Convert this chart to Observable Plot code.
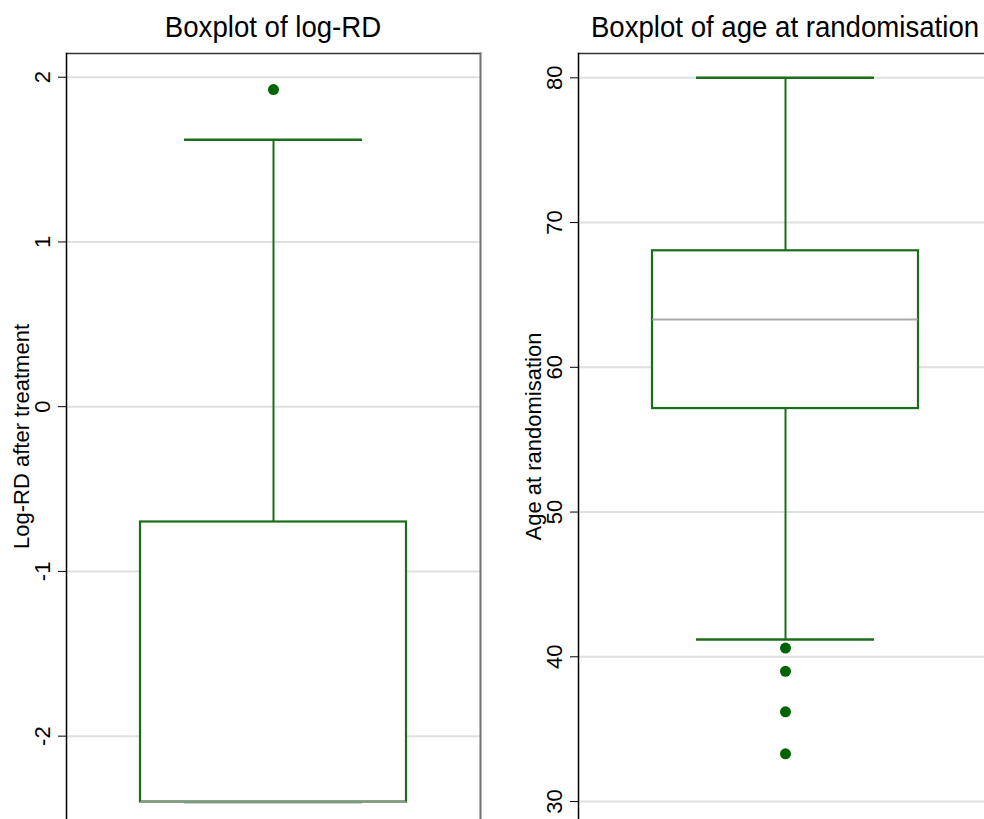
<!DOCTYPE html>
<html>
<head>
<meta charset="utf-8">
<script src="https://cdn.jsdelivr.net/npm/d3@7"></script>
<script src="https://cdn.jsdelivr.net/npm/@observablehq/plot@0.6"></script>
<style>
  html, body { margin: 0; padding: 0; background: #fff; overflow: hidden; }
  #page { position: relative; width: 984px; height: 819px; overflow: hidden; background: #fff; }
  .panel { position: absolute; top: 0; }
  .panel svg { max-width: none !important; }
  .title {
    position: absolute; top: 12px; white-space: nowrap;
    font-family: "Liberation Sans", Arial, Helvetica, sans-serif;
    font-size: 30px; line-height: 30px; color: #000;
    transform: translateX(-50%) scaleX(0.92);
  }
</style>
</head>
<body>
<div id="page"></div>
<script>
// Log-RD after treatment: five-number summary and outliers
const rdName = "Log-RD";
const rdQ1 = -2.40, rdMedian = -2.40, rdQ3 = -0.70;
const rdLowerWhisker = -2.40, rdUpperWhisker = 1.62;
const rdOutliers = [1.925];
const rdTicks = [-2, -1, 0, 1, 2];

// Age at randomisation: five-number summary and outliers
const ageName = "Age";
const ageQ1 = 57.15, ageMedian = 63.3, ageQ3 = 68.05;
const ageLowerWhisker = 41.2, ageUpperWhisker = 80.0;
const ageOutliers = [40.6, 39.0, 36.2, 33.3];
const ageTicks = [30, 40, 50, 60, 70, 80];

const green = "#1a6e1a";
const dotGreen = "#006400";
const medianGray = "#9a9a9a";
const gridGray = "#e0e0e0";
const fontFamily = "'Liberation Sans', Arial, Helvetica, sans-serif";

function boxPanel({name, q1, median, q3, lo, hi, outliers, ticks, domain, label, width, marginLeft, marginRight, rightBorder}) {
  const stats = [{name, q1, median, q3, lo, hi}];
  const pts = outliers.map(v => ({name, v}));
  return Plot.plot({
    width,
    height: 819,
    marginTop: 53,
    marginBottom: 0,
    marginLeft,
    marginRight,
    style: {fontFamily, fontSize: "22px", color: "#000", background: "#fff"},
    x: {type: "band", domain: [name], paddingInner: 0, paddingOuter: 0.278, axis: null},
    y: {domain, axis: null},
    marks: [
      Plot.gridY(ticks, {stroke: gridGray, strokeOpacity: 1, strokeWidth: 2}),
      Plot.axisY(ticks, {
        tickRotate: -90, tickSize: 8, tickPadding: 9, stroke: "#000",
        tickFormat: d => String(d), fontSize: 22, label: null
      }),
      // axis title, centred on the plot area
      Plot.text([label], {
        text: d => d, frameAnchor: "left", dx: -53, rotate: -90,
        textAnchor: "middle", lineAnchor: "top", fontSize: 22, fill: "#000"
      }),
      Plot.ruleX(stats, {x: "name", y1: "q3", y2: "hi", stroke: green, strokeWidth: 2}),
      Plot.ruleX(stats, {x: "name", y1: "q1", y2: "lo", stroke: green, strokeWidth: 2}),
      Plot.tickY(stats, {x: "name", y: "hi", stroke: green, strokeWidth: 2.5, insetLeft: 44, insetRight: 44}),
      Plot.tickY(stats, {x: "name", y: "lo", stroke: green, strokeWidth: 2.5, insetLeft: 44, insetRight: 44}),
      Plot.barY(stats, {x: "name", y1: "q1", y2: "q3", fill: "#fff", stroke: green, strokeWidth: 2.2}),
      Plot.tickY(stats, {x: "name", y: "median", stroke: medianGray, strokeOpacity: 0.85, strokeWidth: 2}),
      Plot.dot(pts, {x: "name", y: "v", r: 5.5, fill: dotGreen, stroke: "none"}),
      Plot.frame({anchor: "top", stroke: "#333", strokeWidth: 1.5}),
      Plot.frame({anchor: "right", stroke: rightBorder, strokeWidth: 2}),
      Plot.frame({anchor: "left", stroke: "#000", strokeWidth: 1.5})
    ]
  });
}

const page = document.getElementById("page");

function addPanel(left, width, svg, title, centerX) {
  const holder = document.createElement("div");
  holder.className = "panel";
  holder.style.left = left + "px";
  holder.style.width = width + "px";
  holder.appendChild(svg);
  page.appendChild(holder);
  const t = document.createElement("div");
  t.className = "title";
  t.style.left = centerX + "px";
  t.textContent = title;
  page.appendChild(t);
}

addPanel(0, 490, boxPanel({
  name: rdName, q1: rdQ1, median: rdMedian, q3: rdQ3,
  lo: rdLowerWhisker, hi: rdUpperWhisker, outliers: rdOutliers,
  ticks: rdTicks, domain: [-2.506, 2.144], label: "Log-RD after treatment",
  width: 490, marginLeft: 66, marginRight: 10, rightBorder: "#707070"
}), "Boxplot of log-RD", 273);

addPanel(490, 502, boxPanel({
  name: ageName, q1: ageQ1, median: ageMedian, q3: ageQ3,
  lo: ageLowerWhisker, hi: ageUpperWhisker, outliers: ageOutliers,
  ticks: ageTicks, domain: [28.76, 81.68], label: "Age at randomisation",
  width: 502, marginLeft: 88, marginRight: 0, rightBorder: "#707070"
}), "Boxplot of age at randomisation", 785);
</script>
</body>
</html>
